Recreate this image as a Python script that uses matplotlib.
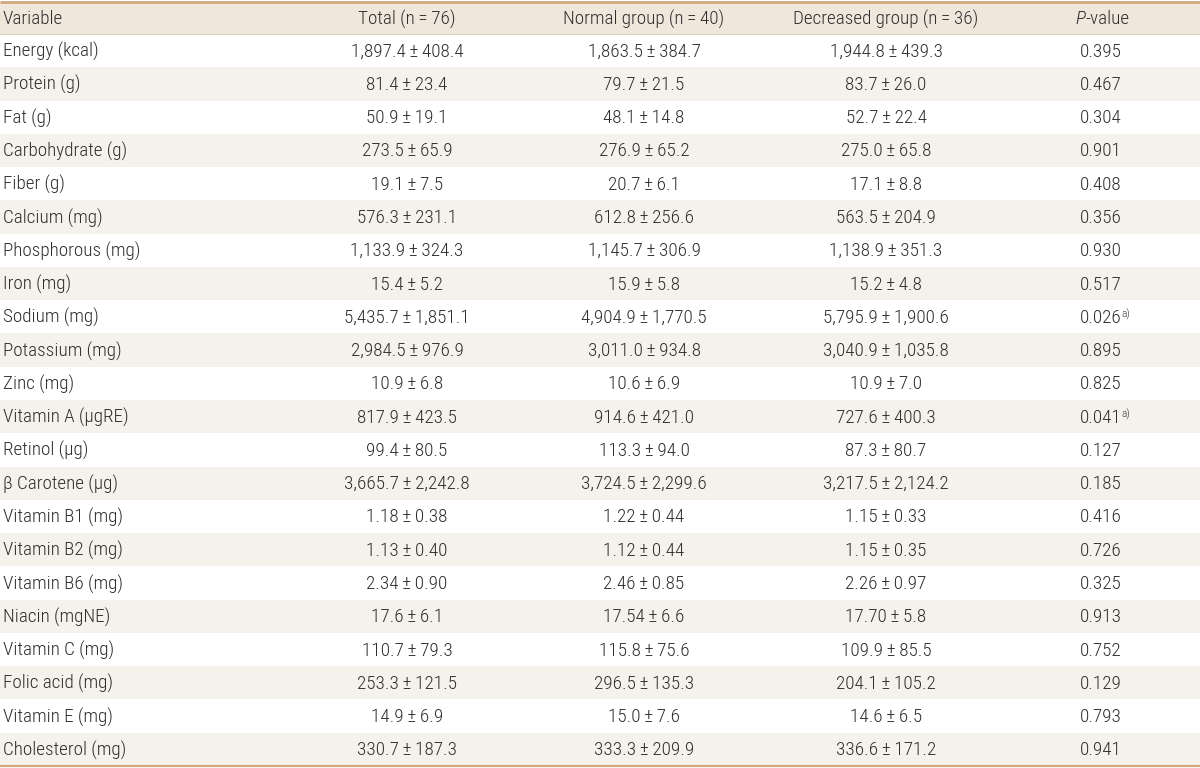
import matplotlib
matplotlib.use("Agg")
import matplotlib.pyplot as plt
from matplotlib.patches import Rectangle
from matplotlib import font_manager

names = {f.name for f in font_manager.fontManager.ttflist}
prefs = ["Roboto Condensed", "Archivo Narrow", "Barlow Semi Condensed", "Roboto"]
MAIN = next(p for p in prefs if p in names)
FAMILY = [MAIN, "DejaVu Sans"]

headers = ["Variable", "Total (n\u2009=\u200976)", "Normal group (n\u2009=\u200940)",
           "Decreased group (n\u2009=\u200936)", "P-value"]

variables = ["Energy (kcal)", "Protein (g)", "Fat (g)", "Carbohydrate (g)", "Fiber (g)",
             "Calcium (mg)", "Phosphorous (mg)", "Iron (mg)", "Sodium (mg)", "Potassium (mg)",
             "Zinc (mg)", "Vitamin A (\u03bcgRE)", "Retinol (\u03bcg)", "\u03b2 Carotene (\u03bcg)",
             "Vitamin B1 (mg)", "Vitamin B2 (mg)", "Vitamin B6 (mg)", "Niacin (mgNE)",
             "Vitamin C (mg)", "Folic acid (mg)", "Vitamin E (mg)", "Cholesterol (mg)"]

total = ["1,897.4\u00b1408.4", "81.4\u00b123.4", "50.9\u00b119.1", "273.5\u00b165.9", "19.1\u00b17.5",
         "576.3\u00b1231.1", "1,133.9\u00b1324.3", "15.4\u00b15.2", "5,435.7\u00b11,851.1",
         "2,984.5\u00b1976.9", "10.9\u00b16.8", "817.9\u00b1423.5", "99.4\u00b180.5",
         "3,665.7\u00b12,242.8", "1.18\u00b10.38", "1.13\u00b10.40", "2.34\u00b10.90", "17.6\u00b16.1",
         "110.7\u00b179.3", "253.3\u00b1121.5", "14.9\u00b16.9", "330.7\u00b1187.3"]

normal = ["1,863.5\u00b1384.7", "79.7\u00b121.5", "48.1\u00b114.8", "276.9\u00b165.2", "20.7\u00b16.1",
          "612.8\u00b1256.6", "1,145.7\u00b1306.9", "15.9\u00b15.8", "4,904.9\u00b11,770.5",
          "3,011.0\u00b1934.8", "10.6\u00b16.9", "914.6\u00b1421.0", "113.3\u00b194.0",
          "3,724.5\u00b12,299.6", "1.22\u00b10.44", "1.12\u00b10.44", "2.46\u00b10.85", "17.54\u00b16.6",
          "115.8\u00b175.6", "296.5\u00b1135.3", "15.0\u00b17.6", "333.3\u00b1209.9"]

decreased = ["1,944.8\u00b1439.3", "83.7\u00b126.0", "52.7\u00b122.4", "275.0\u00b165.8", "17.1\u00b18.8",
             "563.5\u00b1204.9", "1,138.9\u00b1351.3", "15.2\u00b14.8", "5,795.9\u00b11,900.6",
             "3,040.9\u00b11,035.8", "10.9\u00b17.0", "727.6\u00b1400.3", "87.3\u00b180.7",
             "3,217.5\u00b12,124.2", "1.15\u00b10.33", "1.15\u00b10.35", "2.26\u00b10.97", "17.70\u00b15.8",
             "109.9\u00b185.5", "204.1\u00b1105.2", "14.6\u00b16.5", "336.6\u00b1171.2"]

pvalues = ["0.395", "0.467", "0.304", "0.901", "0.408", "0.356", "0.930", "0.517", "0.026",
           "0.895", "0.825", "0.041", "0.127", "0.185", "0.416", "0.726", "0.325", "0.913",
           "0.752", "0.129", "0.793", "0.941"]
significant = ["Sodium (mg)", "Vitamin A (\u03bcgRE)"]

W, H = 1200, 768
fig = plt.figure(figsize=(W / 100, H / 100), dpi=100)
ax = fig.add_axes([0, 0, 1, 1])
ax.set_xlim(0, W)
ax.set_ylim(H, 0)
ax.axis("off")

TXT = "#2e2e2e"
FS = 13.8
WT = 300
head_top, head_bot = 2, 34
bottom = 766
n = len(variables)
rh = (bottom - head_bot) / n


def put(x, y, s, ha="center", **kw):
    s = s.replace("\u00b1", "\u2009\u00b1\u2009")
    return ax.text(x, y, s, ha=ha, va="center", fontsize=FS, color=TXT, family=FAMILY,
                   weight=WT, **kw)


# header
ax.add_patch(Rectangle((0, head_top), W, head_bot - head_top, facecolor="#efe7dc", edgecolor="none"))
ax.plot([0, W], [head_top, head_top], color="#d2a77c", lw=2.0, solid_capstyle="butt")
ax.plot([0, W], [head_bot, head_bot], color="#d9cfc2", lw=0.8)
ax.plot([0, W], [bottom, bottom], color="#d2a77c", lw=1.6, solid_capstyle="butt")

col_x = [3, 407, 644, 886, 1101]
hy = (head_top + head_bot) / 2 + 1
put(col_x[0], hy, headers[0], ha="left")
for j in (1, 2, 3):
    put(col_x[j], hy, headers[j])
hp = put(col_x[4] + 6, hy, "-value")
ax.annotate("P", xy=(0, 0.5), xycoords=hp, ha="right", va="center", fontsize=FS, color=TXT,
            family=FAMILY, weight=WT, style="italic")

for i in range(n):
    y0 = head_bot + i * rh
    if i % 2 == 1:
        ax.add_patch(Rectangle((0, y0), W, rh, facecolor="#f5f1eb", edgecolor="none"))
    yc = y0 + rh / 2 + 1
    put(col_x[0], yc, variables[i], ha="left")
    put(col_x[1], yc, total[i])
    put(col_x[2], yc, normal[i])
    put(col_x[3], yc, decreased[i])
    t = put(col_x[4], yc, pvalues[i])
    if variables[i] in significant:
        ax.annotate("a)", xy=(1, 1), xycoords=t, xytext=(-0.3, 0), textcoords="offset points",
                    ha="left", va="top", fontsize=8, color=TXT, family=FAMILY, weight=WT)

fig.savefig("out.png", dpi=100)
